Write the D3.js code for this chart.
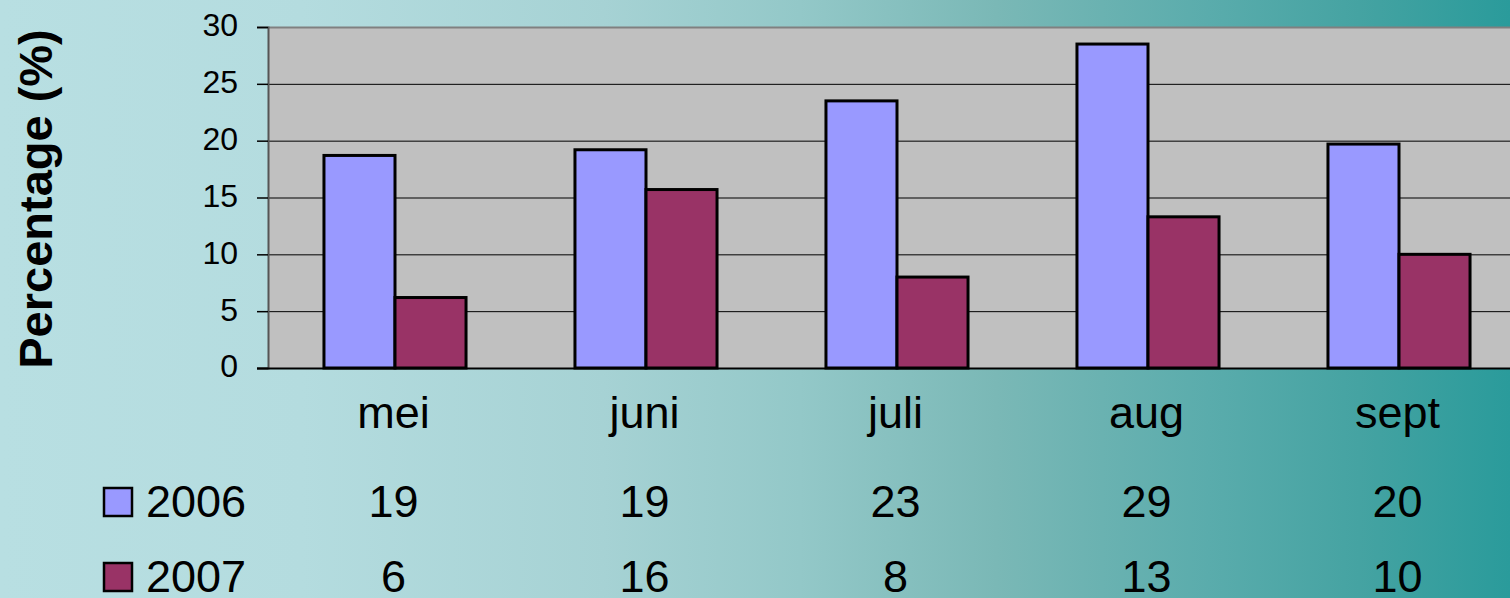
<!DOCTYPE html>
<html>
<head>
<meta charset="utf-8">
<script src="https://cdn.jsdelivr.net/npm/d3@7"></script>
<style>
    html, body { margin: 0; padding: 0; overflow: hidden; }
    text { font-family: "Liberation Sans", Arial, sans-serif; fill: #000; }
</style>
</head>
<body>
<div id="chart"></div>
<script>
// chart data
var months = ['mei', 'juni', 'juli', 'aug', 'sept'];
var series = ['2006', '2007'];
var values2006 = [18.7, 19.2, 23.5, 28.5, 19.7];
var values2007 = [6.2, 15.7, 8.0, 13.3, 10.0];
// data table shown under the chart (rounded as printed)
var table2006 = ['19', '19', '23', '29', '20'];
var table2007 = ['6', '16', '8', '13', '10'];
var yTicks = [0, 5, 10, 15, 20, 25, 30];

var colors = {'2006': '#9999ff', '2007': '#993366'};

var width = 1510, height = 598;
var plot = {'left': 268, 'top': 27, 'bottom': 368, 'right': 1523};

var svg = d3.select('#chart').append('svg')
    .attr('width', width)
    .attr('height', height);

// background gradient
var bg = svg.append('defs').append('linearGradient')
    .attr('id', 'bg-grad')
    .attr('x1', '0%').attr('x2', '100%')
    .attr('y1', '0%').attr('y2', '0%');
[[0, '#b8dfe2'], [0.2, '#b4dcdf'], [0.4, '#a6d2d4'], [0.53, '#93c8c8'],
 [0.66, '#7ab8b6'], [0.8, '#5aacac'], [0.9, '#45a3a2'], [1, '#2a9b9b']]
    .forEach(function(d) {
        bg.append('stop').attr('offset', d[0]).attr('stop-color', d[1]);
    });

svg.append('rect')
    .attr('width', width).attr('height', height)
    .style('fill', 'url(#bg-grad)');

var x = d3.scaleBand()
    .domain(months)
    .range([plot.left, plot.right])
    .paddingInner(0.434)
    .paddingOuter(0.217);

var xs = d3.scaleBand()
    .domain(series)
    .range([0, x.bandwidth()]);

var y = d3.scaleLinear()
    .domain([0, 30])
    .range([plot.bottom, plot.top]);

// plot area
svg.append('rect')
    .attr('x', plot.left).attr('y', plot.top)
    .attr('width', plot.right - plot.left)
    .attr('height', plot.bottom - plot.top)
    .style('fill', '#c0c0c0');

// gridlines
svg.append('g').selectAll('line')
    .data(yTicks.filter(function(d) { return d > 0 && d < 30; }))
    .enter().append('line')
    .attr('x1', plot.left).attr('x2', plot.right)
    .attr('y1', function(d) { return y(d) + 0.5; })
    .attr('y2', function(d) { return y(d) + 0.5; })
    .style('stroke', '#000').style('stroke-width', 1);

// top border
svg.append('line')
    .attr('x1', plot.left).attr('x2', plot.right)
    .attr('y1', y(30) + 0.5).attr('y2', y(30) + 0.5)
    .style('stroke', '#808080').style('stroke-width', 2);

// y axis
var yAxis = d3.axisLeft(y)
    .tickValues(yTicks)
    .tickSize(11)
    .tickPadding(19);

var ya = svg.append('g')
    .attr('transform', 'translate(' + plot.left + ',0)')
    .call(yAxis);
ya.select('.domain').style('stroke', '#555').style('stroke-width', 2);
ya.selectAll('.tick line').style('stroke', '#000').style('stroke-width', 1.5);
ya.selectAll('.tick text')
    .style('font-size', '32px')
    .style('font-family', '"Liberation Sans", Arial, sans-serif')
    .attr('dy', '0.28em');

// bars
var rows = months.map(function(m, i) {
    return {'month': m, '2006': values2006[i], '2007': values2007[i]};
});

var groups = svg.append('g').selectAll('g')
    .data(rows)
    .enter().append('g')
    .attr('transform', function(d) { return 'translate(' + x(d.month) + ',0)'; });

groups.selectAll('rect')
    .data(function(d) {
        return series.map(function(s) { return {'key': s, 'value': d[s]}; });
    })
    .enter().append('rect')
    .attr('x', function(d) { return xs(d.key) + 1.5; })
    .attr('y', function(d) { return y(d.value); })
    .attr('width', xs.bandwidth())
    .attr('height', function(d) { return y(0) - y(d.value); })
    .style('fill', function(d) { return colors[d.key]; })
    .style('stroke', '#000')
    .style('stroke-width', 3);

// x axis line
svg.append('line')
    .attr('x1', plot.left - 11).attr('x2', plot.right)
    .attr('y1', y(0) + 0.5).attr('y2', y(0) + 0.5)
    .style('stroke', '#000').style('stroke-width', 2);

// category labels
svg.append('g').selectAll('text')
    .data(months)
    .enter().append('text')
    .attr('x', function(d) { return x(d) + x.bandwidth() / 2; })
    .attr('y', 428)
    .attr('text-anchor', 'middle')
    .style('font-size', '45px')
    .text(function(d) { return d; });

// data table
var tableRows = [
    {'key': '2006', 'labels': table2006, 'base': 517},
    {'key': '2007', 'labels': table2007, 'base': 592}
];

tableRows.forEach(function(r) {
    svg.append('rect')
        .attr('x', 104).attr('y', r.base - 29)
        .attr('width', 28).attr('height', 28)
        .style('fill', colors[r.key])
        .style('stroke', '#000')
        .style('stroke-width', 2.5);

    svg.append('text')
        .attr('x', 146).attr('y', r.base)
        .style('font-size', '45px')
        .text(r.key);

    svg.append('g').selectAll('text')
        .data(r.labels)
        .enter().append('text')
        .attr('x', function(d, i) { return x(months[i]) + x.bandwidth() / 2; })
        .attr('y', r.base)
        .attr('text-anchor', 'middle')
        .style('font-size', '45px')
        .text(function(d) { return d; });
});

// y axis title
svg.append('text')
    .attr('transform', 'translate(52,199) rotate(-90)')
    .attr('text-anchor', 'middle')
    .style('font-size', '47px')
    .style('font-weight', 'bold')
    .text('Percentage (%)');
</script>
</body>
</html>
